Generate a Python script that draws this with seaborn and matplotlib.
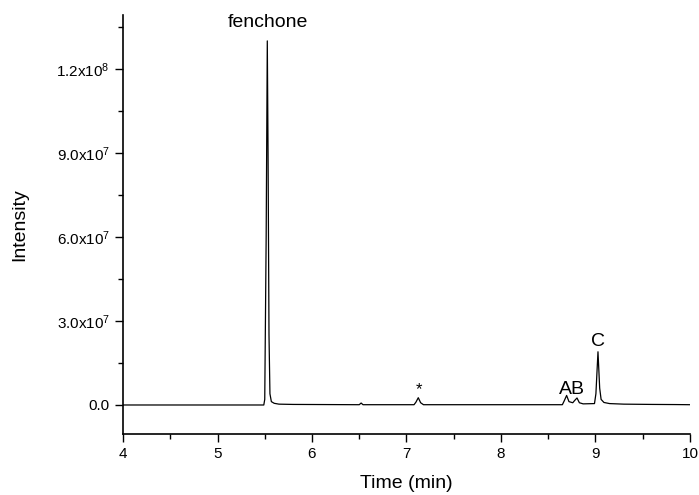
import matplotlib
matplotlib.use("Agg")
import matplotlib.pyplot as plt
import matplotlib.ticker as mticker
import seaborn as sns
import pandas as pd

# Chromatogram trace (time in min, intensity in counts)
time_min = [4.00, 5.49, 5.50, 5.515, 5.527, 5.535, 5.545, 5.555, 5.57, 5.60, 5.65, 5.80,
            6.50, 6.52, 6.54, 7.08, 7.10, 7.125, 7.15, 7.18, 8.65, 8.67, 8.695, 8.72,
            8.76, 8.78, 8.805, 8.83, 8.87, 8.99, 9.005, 9.027, 9.045, 9.06, 9.09, 9.15,
            9.30, 9.60, 9.85, 10.00]
intensity = [0.0, 0.0, 2.0e6, 6.0e7, 1.30e8, 9.0e7, 2.5e7, 4.0e6, 1.2e6, 6.0e5, 3.0e5, 2.0e5,
             1.0e5, 7.0e5, 1.0e5, 1.0e5, 1.0e6, 2.6e6, 8.0e5, 1.0e5, 1.0e5, 1.5e6, 3.4e6, 1.2e6,
             8.0e5, 1.6e6, 2.5e6, 8.0e5, 4.0e5, 5.0e5, 4.0e6, 1.90e7, 6.0e6, 2.0e6, 9.0e5, 5.0e5,
             3.0e5, 2.0e5, 1.5e5, 1.0e5]

peak_labels = ["fenchone", "*", "AB", "C"]
peak_label_x = [5.53, 7.13, 8.75, 9.027]
peak_label_y = [1.365e8, 5.5e6, 5.5e6, 2.25e7]

x_ticks = [4, 5, 6, 7, 8, 9, 10]
y_ticks = [0.0, 3.0e7, 6.0e7, 9.0e7, 1.2e8]
y_tick_labels = ["0.0", "3.0x10$^{7}$", "6.0x10$^{7}$", "9.0x10$^{7}$", "1.2x10$^{8}$"]

sns.set_style("ticks")
plt.rcParams['font.family'] = ['Liberation Sans', 'DejaVu Sans']
plt.rcParams['mathtext.fontset'] = 'custom'
plt.rcParams['mathtext.rm'] = 'Liberation Sans'
plt.rcParams['mathtext.it'] = 'Liberation Sans:italic'
plt.rcParams['text.color'] = 'black'
plt.rcParams['axes.labelcolor'] = 'black'

df = pd.DataFrame({"Time (min)": time_min, "Intensity": intensity})

fig = plt.figure(figsize=(6.99, 4.95), dpi=100)
ax = fig.add_axes([0.176, 0.123, 0.811, 0.847])
sns.lineplot(data=df, x="Time (min)", y="Intensity", color="black", linewidth=0.9,
             ax=ax, estimator=None, sort=False)

ax.set_xlim(4, 10)
ax.set_ylim(-1.04e7, 1.393e8)
ax.set_xticks(x_ticks)
ax.xaxis.set_minor_locator(mticker.MultipleLocator(0.5))
ax.set_yticks(y_ticks)
ax.set_yticklabels(y_tick_labels)
ax.yaxis.set_minor_locator(mticker.MultipleLocator(1.5e7))
ax.tick_params(axis="both", which="major", direction="out", length=6, width=1,
               labelsize=11, color="black", labelcolor="black")
ax.tick_params(axis="both", which="minor", direction="out", length=3.5, width=1, color="black")
for s in ["left", "bottom"]:
    ax.spines[s].set_color("black")
    ax.spines[s].set_linewidth(1.2)
sns.despine(ax=ax)

ax.set_xlabel("Time (min)", fontsize=14, labelpad=10)
ax.set_ylabel("Intensity", fontsize=14, labelpad=20)

for lab, lx, ly in zip(peak_labels, peak_label_x, peak_label_y):
    ax.text(lx, ly, lab, ha="center", va="center", fontsize=14 if lab != "*" else 12)

fig.savefig("out.png", dpi=100)
